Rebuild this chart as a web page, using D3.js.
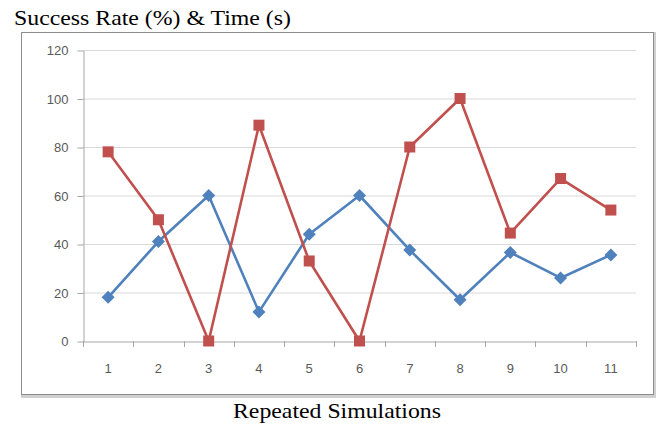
<!DOCTYPE html>
<html>
<head>
<meta charset="utf-8">
<script src="https://cdn.jsdelivr.net/npm/d3@7"></script>
<style>
  body { margin: 0; background: #fff; }
  svg { display: block; }
</style>
</head>
<body>
<svg id="chart" width="656" height="425"></svg>
<script>
const categories = ['1', '2', '3', '4', '5', '6', '7', '8', '9', '10', '11'];
const blueValues = [18, 41, 60, 12, 44, 60, 37.5, 17, 36.5, 26, 35.5];
const redValues = [78, 50, 0, 89, 33, 0, 80, 100, 44.5, 67, 54];
const yTicks = [0, 20, 40, 60, 80, 100, 120];

const svg = d3.select('#chart');
const plot = {left: 83, right: 636, top: 50, bottom: 341};
const labelFont = 'Liberation Sans, Arial, sans-serif';

// chart frame
svg.append('rect')
   .attr('x', 22.5).attr('y', 33.5)
   .attr('width', 633).attr('height', 363)
   .attr('fill', 'none')
   .attr('stroke', '#d0d0d0')
   .attr('stroke-width', 3);
svg.append('rect')
   .attr('x', 21.5).attr('y', 32.5)
   .attr('width', 632).attr('height', 362)
   .attr('fill', '#fff')
   .attr('stroke', '#8c8c8c')
   .attr('stroke-width', 1);

let x = d3.scaleBand()
          .domain(categories)
          .range([plot.left, plot.right]);
let y = d3.scaleLinear()
          .domain([0, 120])
          .range([plot.bottom, plot.top]);

// gridlines
svg.append('g')
   .selectAll('line')
   .data(yTicks.filter(d => d > 0))
   .enter()
   .append('line')
   .attr('x1', plot.left)
   .attr('x2', plot.right)
   .attr('y1', d => y(d) + 0.5)
   .attr('y2', d => y(d) + 0.5)
   .attr('stroke', '#d9d9d9')
   .attr('stroke-width', 1.2);

// y axis
let yAxis = svg.append('g')
   .attr('transform', `translate(${plot.left + 0.5},0.5)`)
   .call(d3.axisLeft(y).tickValues(yTicks).tickSize(6).tickPadding(9).tickSizeOuter(0));
yAxis.select('.domain').attr('stroke', '#a6a6a6');
yAxis.selectAll('.tick line').attr('stroke', '#a6a6a6');
yAxis.selectAll('.tick text')
     .attr('fill', '#595959')
     .attr('font-family', labelFont)
     .attr('font-size', '13px');

// x axis
let xAxis = svg.append('g')
   .attr('transform', `translate(0,${plot.bottom + 0.5})`)
   .call(d3.axisBottom(x).tickSize(0).tickPadding(22));
xAxis.select('.domain').attr('stroke', '#a6a6a6');
xAxis.selectAll('.tick text')
     .attr('fill', '#595959')
     .attr('font-family', labelFont)
     .attr('font-size', '13px');
// tick marks between categories
svg.append('g')
   .selectAll('line')
   .data(categories.concat(['end']))
   .enter()
   .append('line')
   .attr('x1', (d, i) => Math.round(plot.left + i * x.step()) + 0.5)
   .attr('x2', (d, i) => Math.round(plot.left + i * x.step()) + 0.5)
   .attr('y1', plot.bottom)
   .attr('y2', plot.bottom + 6)
   .attr('stroke', '#a6a6a6');

const cx = d => x(d) + x.bandwidth() / 2;

function drawSeries(values, color, marker){
  let line = d3.line()
               .x((d, i) => cx(categories[i]))
               .y(d => y(d));
  svg.append('path')
     .attr('d', line(values))
     .attr('fill', 'none')
     .attr('stroke', color)
     .attr('stroke-width', 2.6)
     .attr('stroke-linejoin', 'round');
  let g = svg.append('g');
  values.forEach((v, i) => {
    if(marker === 'square'){
      g.append('rect')
       .attr('x', cx(categories[i]) - 5.5)
       .attr('y', y(v) - 5.5)
       .attr('width', 11)
       .attr('height', 11)
       .attr('fill', color);
    } else {
      g.append('path')
       .attr('d', 'M0,-6.5L6.5,0L0,6.5L-6.5,0Z')
       .attr('transform', `translate(${cx(categories[i])},${y(v)})`)
       .attr('fill', color);
    }
  });
}

drawSeries(blueValues, '#4f81bd', 'diamond');
drawSeries(redValues, '#c0504d', 'square');

// titles
svg.append('text')
   .attr('x', 14)
   .attr('y', 25)
   .attr('font-family', 'Liberation Serif, Times New Roman, serif')
   .attr('font-size', '21px')
   .attr('fill', '#000')
   .attr('textLength', 277)
   .attr('lengthAdjust', 'spacingAndGlyphs')
   .text('Success Rate (%) & Time (s)');
svg.append('text')
   .attr('x', 233)
   .attr('y', 418)
   .attr('font-family', 'Liberation Serif, Times New Roman, serif')
   .attr('font-size', '21px')
   .attr('fill', '#000')
   .attr('textLength', 208)
   .attr('lengthAdjust', 'spacingAndGlyphs')
   .text('Repeated Simulations');
</script>
</body>
</html>
